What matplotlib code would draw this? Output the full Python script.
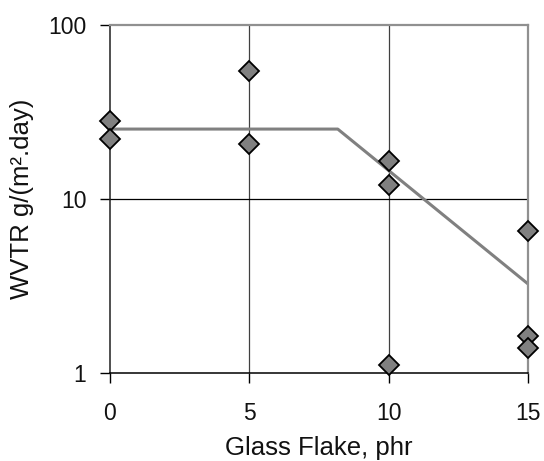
import numpy as np
import matplotlib.pyplot as plt

plt.rcParams['font.family'] = ['Liberation Sans', 'DejaVu Sans']

# measured points, WVTR vs glass flake loading
flake = [0, 0, 5, 5, 10, 10, 10, 15, 15, 15]
wvtr = [28.1, 22.1, 54.4, 20.8, 16.5, 12.0, 1.11, 6.55, 1.63, 1.40]

# fitted trend line (flat then falling)
fit_x = [0, 8.17, 15]
fit_y = [25.2, 25.2, 3.24]

xticks = [0, 5, 10, 15]
yticks = [1, 10, 100]
ytick_labels = ['1', '10', '100']

fig = plt.figure(figsize=(5.44, 4.61), dpi=100)
ax = fig.add_axes([0.202, 0.191, 0.769, 0.755])

ax.set_yscale('log')
ax.set_xlim(0, 15)
ax.set_ylim(1, 100)

# gridlines like the excel chart
for gx in [5, 10]:
    ax.axvline(gx, color='#404040', lw=0.9, zorder=1)
ax.axhline(10, color='black', lw=0.9, zorder=1)

ax.plot(fit_x, fit_y, color='#808080', lw=2.2, zorder=2, solid_capstyle='butt')
ax.plot(flake, wvtr, linestyle='none', marker='D', ms=10.5,
        mfc='#808080', mec='black', mew=1.3, zorder=3, clip_on=False)

ax.set_xticks(xticks)
ax.set_yticks(yticks)
ax.set_yticklabels(ytick_labels)
ax.minorticks_off()
ax.tick_params(axis='x', direction='out', length=7, width=1, pad=14, labelsize=16.5,
               labelcolor='#111111')
ax.tick_params(axis='y', direction='out', length=7, width=1, pad=10, labelsize=16.5,
               labelcolor='#111111')

for s in ['top', 'right']:
    ax.spines[s].set_color('#909090')
    ax.spines[s].set_linewidth(1.6)
ax.spines['left'].set_color('#202020')
ax.spines['bottom'].set_color('black')
ax.spines['left'].set_linewidth(1.1)
ax.spines['bottom'].set_linewidth(1.1)

ax.set_xlabel('Glass Flake, phr', fontsize=18.5, labelpad=8, color='#111111')
ax.set_ylabel('WVTR g/(m².day)', fontsize=18.5, labelpad=10, color='#111111')

fig.savefig('out.png', dpi=100)
